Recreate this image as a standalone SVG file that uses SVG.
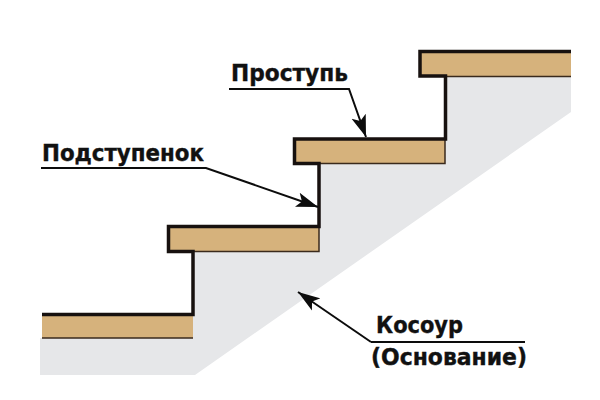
<svg xmlns="http://www.w3.org/2000/svg" width="600" height="400" viewBox="0 0 600 400">
<style>
.lbl{font-family:"DejaVu Sans","Liberation Sans",sans-serif;font-weight:700;font-size:23.500px;fill:#111;stroke:#111;stroke-width:.4}
.tread{fill:#d6b27c}
.edge{fill:none;stroke:#17110f;stroke-width:3.5;stroke-linejoin:miter}
.thin{fill:none;stroke:#3a2a1c;stroke-width:1.5}
.lead{fill:none;stroke:#0c0c0c;stroke-width:2}
</style>
<defs><marker id="ah" markerUnits="userSpaceOnUse" markerWidth="24" markerHeight="16" refX="22" refY="8" orient="auto"><path d="M0 0.5L22 8L0 15.5L5 8Z" fill="#0c0c0c"/></marker></defs>
<rect width="600" height="400" fill="#fff"/>
<g id="stringer"><polygon points="40,338 193,338 193,252 319,252 319,163 445,163 445,76 571,76 571,112 195,375 40,375" fill="#e6e7e9"/></g>
<g id="step-1"><rect class="tread" x="42" y="314" width="151" height="24"/>
<path class="thin" d="M42 338H193"/></g>
<g id="step-2"><rect class="tread" x="168" y="226" width="151" height="25"/>
<path class="thin" d="M193 251.500H319V226"/></g>
<g id="step-3"><rect class="tread" x="294" y="139" width="151" height="24"/>
<path class="thin" d="M320 163.500H445V139"/></g>
<g id="step-4"><rect class="tread" x="420" y="52" width="151" height="24"/>
<path class="thin" d="M446 76.500H571"/></g>
<g id="profile"><path class="edge" d="M42 314.500H193V251.500H168.500V226.500H319V163.500H294.500V139H445.500V76H420V51.500H571"/></g>
<g id="connectors">
<path class="lead" marker-end="url(#ah)" d="M229 89H349L366 137"/>
<path class="lead" marker-end="url(#ah)" d="M41 168H206L318 207"/>
<path class="lead" d="M371 342H525"/>
<path class="lead" marker-end="url(#ah)" d="M371 342L298 292"/>
</g>
<g id="label-tread"><text class="lbl" x="231" y="81" textLength="117" lengthAdjust="spacingAndGlyphs">Проступь</text></g>
<g id="label-riser"><text class="lbl" x="42" y="161" textLength="162" lengthAdjust="spacingAndGlyphs">Подступенок</text></g>
<g id="label-stringer"><text class="lbl" x="376" y="333" textLength="87" lengthAdjust="spacingAndGlyphs">Косоур</text><text class="lbl" x="371" y="365" textLength="156" lengthAdjust="spacingAndGlyphs">(Основание)</text></g>
</svg>
